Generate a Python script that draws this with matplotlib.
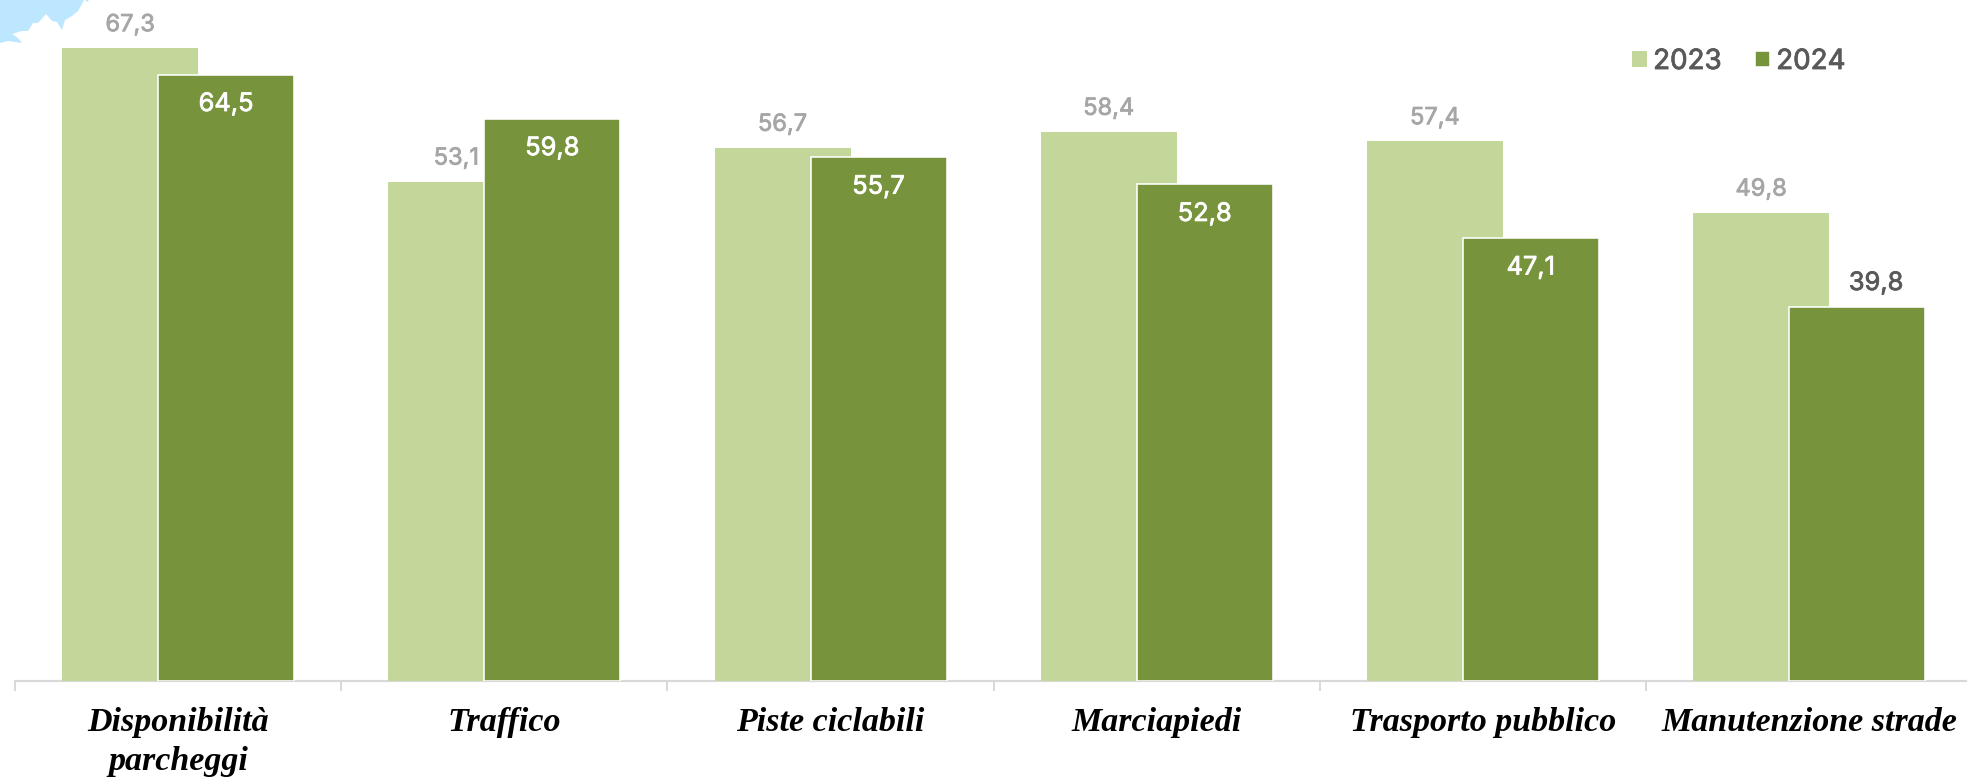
import numpy as np
import matplotlib
matplotlib.use("Agg")
import matplotlib.pyplot as plt
import matplotlib.patheffects as pe
from matplotlib.patches import Polygon
from matplotlib.transforms import Affine2D

categories = ["Disponibilità\nparcheggi", "Traffico", "Piste ciclabili",
              "Marciapiedi", "Trasporto pubblico", "Manutenzione strade"]
values_2023 = [67.3, 53.1, 56.7, 58.4, 57.4, 49.8]
values_2024 = [64.5, 59.8, 55.7, 52.8, 47.1, 39.8]
series_names = ["2023", "2024"]

W, H, DPI = 1967, 777, 100
LIGHT, DARK = "#C4D79B", "#77933C"
BASE_Y, LEFT, CAT_W, PX_PER_UNIT = 680.5, 15.0, 326.2, 9.395
LABEL_FONT = "Inter"
px = 72 / DPI

fig = plt.figure(figsize=(W / DPI, H / DPI), dpi=DPI, facecolor="white")
ax = fig.add_axes([LEFT / W, (H - BASE_Y) / H, 6 * CAT_W / W, BASE_Y / H])
ax.patch.set_visible(False)
ax.set_xlim(0, 6)
ax.set_ylim(0, BASE_Y / PX_PER_UNIT)

# decorative pale-blue shape in the top-left corner
to_pixels = Affine2D().scale(1, -1).translate(0, H)
corner = [(0, 43), (8, 41), (15, 42), (22, 43), (18, 38), (12, 34), (22, 31), (28, 31),
          (33, 23), (38, 23), (46, 14), (52, 21), (57, 22), (62, 30), (65, 20), (72, 16),
          (78, 11), (82, 4), (84, 0), (0, 0)]
fig.add_artist(Polygon(corner, closed=True, facecolor="#BDE6FF", edgecolor="none",
                       transform=to_pixels))
fig.add_artist(Polygon([(85, 0), (89, 0), (87, 2)], closed=True, facecolor="#BDE6FF",
                       edgecolor="none", transform=to_pixels))

x = np.arange(len(categories)) + 0.5
b1 = ax.bar(x - 48 / CAT_W, values_2023, 136 / CAT_W, color=LIGHT,
            label=series_names[0], zorder=2)
b2 = ax.bar(x + 48 / CAT_W, values_2024, 136 / CAT_W, color=DARK, edgecolor="white",
            linewidth=1.6 * px, label=series_names[1], zorder=3)


def fmt(v):
    return f"{v:.1f}".replace(".", ",")


def heavier(color, amount=0.55):
    return [pe.withStroke(linewidth=amount, foreground=color)]


for xi, v in zip(x - 48 / CAT_W, values_2023):
    ax.annotate(fmt(v), (xi, v), xytext=(0, 23), textcoords="offset pixels", ha="center",
                va="center", fontsize=17, color="#A6A6A6", family=LABEL_FONT, zorder=4,
                path_effects=heavier("#A6A6A6"))
for xi, v in zip(x + 48 / CAT_W, values_2024):
    inside = v > 45
    colour = "white" if inside else "#595959"
    ax.annotate(fmt(v), (xi, v), xytext=(0 if inside else 19, -30 if inside else 23),
                textcoords="offset pixels", ha="center", va="center", fontsize=18.3,
                color=colour, family=LABEL_FONT, zorder=4, path_effects=heavier(colour))

for s in ["top", "left", "right"]:
    ax.spines[s].set_visible(False)
ax.spines["bottom"].set_color("#D9D9D9")
ax.spines["bottom"].set_linewidth(2.2 * px)
ax.spines["bottom"].set_zorder(1)
ax.yaxis.set_visible(False)
ax.set_xticks(np.arange(len(categories) + 1), minor=True)
ax.tick_params(axis="x", which="minor", length=10 * px, width=2 * px, color="#D9D9D9")
ax.set_xticks(x)
ax.set_xticklabels(categories, fontsize=24.5, family="Liberation Serif", style="italic",
                   weight="bold", color="black", linespacing=1.35)
ax.tick_params(axis="x", which="major", length=0, pad=19)

leg = fig.legend(handles=[b1, b2], labels=series_names, ncol=2, frameon=False,
                 loc="center left", bbox_to_anchor=(1632 / W, 1 - 62 / H),
                 borderpad=0, borderaxespad=0,
                 handlelength=0.54, handleheight=0.54, handletextpad=0.22, columnspacing=1.2,
                 labelcolor="#595959", prop={"family": LABEL_FONT, "size": 20})
for t in leg.get_texts():
    t.set_path_effects(heavier("#595959", 0.6))

fig.savefig("out.png", dpi=DPI)
